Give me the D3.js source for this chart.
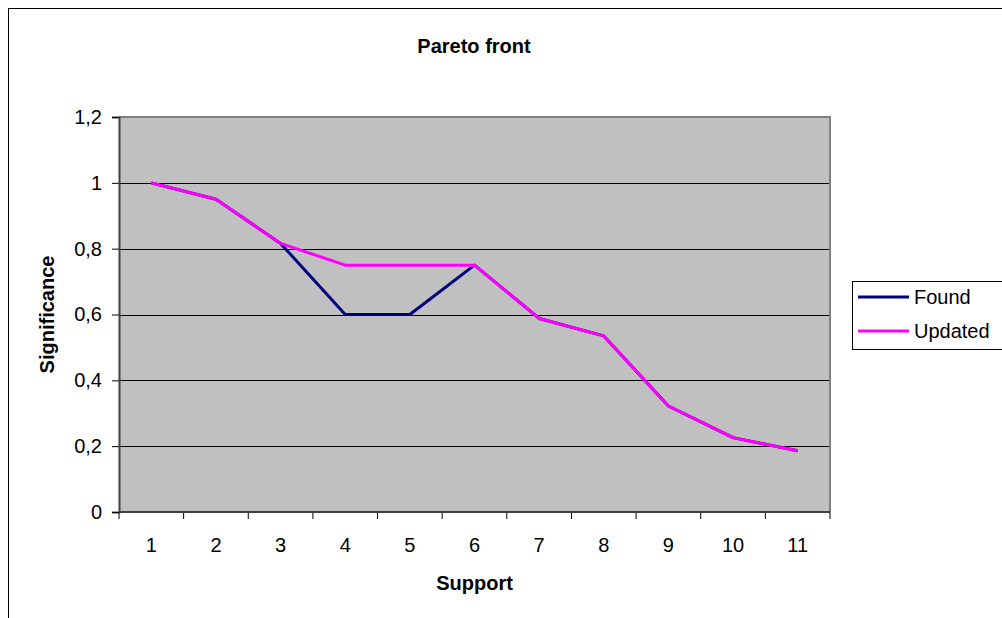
<!DOCTYPE html>
<html>
<head>
<meta charset="utf-8">
<script src="https://cdn.jsdelivr.net/npm/d3@7"></script>
<style>
  html, body { margin: 0; padding: 0; background: #fff; }
  svg { display: block; font-family: "Liberation Sans", Arial, sans-serif; }
</style>
</head>
<body>
<svg id="chart" width="1002" height="618"></svg>
<script>
// Support levels (x categories)
const categories = ["1", "2", "3", "4", "5", "6", "7", "8", "9", "10", "11"];
// Significance of the Pareto front, as found and after update
const found   = [1.0, 0.95, 0.816, 0.60, 0.60, 0.75, 0.588, 0.535, 0.322, 0.226, 0.186];
const updated = [1.0, 0.95, 0.816, 0.75, 0.75, 0.75, 0.588, 0.535, 0.322, 0.226, 0.186];
const yTicks = [0, 0.2, 0.4, 0.6, 0.8, 1, 1.2];
const seriesNames = ["Found", "Updated"];
const seriesColors = ["#000080", "#ff00ff"];

const svg = d3.select("#chart");
const plot = { left: 119, top: 117, right: 830, bottom: 512 };

// Chart area frame (extends past the right and bottom edges)
svg.append("rect")
  .attr("x", 8.5).attr("y", 8.5)
  .attr("width", 1100).attr("height", 700)
  .attr("fill", "#fff").attr("stroke", "#000").attr("stroke-width", 1);

const x = d3.scaleBand().domain(categories).range([plot.left, plot.right]).padding(0);
const y = d3.scaleLinear().domain([0, 1.2]).range([plot.bottom, plot.top]);

// Plot background
svg.append("rect")
  .attr("x", plot.left).attr("y", plot.top)
  .attr("width", plot.right - plot.left).attr("height", plot.bottom - plot.top)
  .attr("fill", "#c0c0c0");

// Horizontal gridlines
svg.append("g")
  .selectAll("line")
  .data(yTicks.filter(v => v > 0 && v < 1.2))
  .join("line")
  .attr("x1", plot.left).attr("x2", plot.right)
  .attr("y1", d => Math.round(y(d)) + 0.5).attr("y2", d => Math.round(y(d)) + 0.5)
  .attr("stroke", "#000").attr("stroke-width", 1);

// Plot border (top and right in grey)
svg.append("path")
  .attr("d", `M${plot.left},${plot.top} H${plot.right} V${plot.bottom}`)
  .attr("fill", "none").attr("stroke", "#808080").attr("stroke-width", 2);

const fmt = d => String(d).replace(".", ",");

// Y axis
const yAxis = svg.append("g")
  .attr("transform", `translate(${plot.left},0)`)
  .call(d3.axisLeft(y).tickValues(yTicks).tickFormat(fmt).tickSize(7).tickPadding(10));
yAxis.select(".domain").attr("stroke", "#404040").attr("stroke-width", 2);
yAxis.selectAll(".tick line").attr("stroke", "#000");
yAxis.selectAll("text").attr("font-size", 20).attr("fill", "#000")
  .attr("font-family", "'Liberation Sans', Arial, sans-serif");

// X axis: ticks at category boundaries, labels at category centres
const xAxis = svg.append("g")
  .attr("transform", `translate(0,${plot.bottom})`)
  .call(d3.axisBottom(x).tickSize(0).tickPadding(26));
xAxis.select(".domain").remove();
xAxis.selectAll("text").attr("font-size", 20).attr("fill", "#000")
  .attr("font-family", "'Liberation Sans', Arial, sans-serif");
const bounds = categories.map(c => x(c)).concat([x(categories[categories.length - 1]) + x.bandwidth()]);
xAxis.selectAll("line.bound")
  .data(bounds)
  .join("line")
  .attr("class", "bound")
  .attr("x1", d => d).attr("x2", d => d)
  .attr("y1", 0).attr("y2", 7)
  .attr("stroke", "#000");
xAxis.append("line")
  .attr("x1", plot.left).attr("x2", plot.right)
  .attr("y1", 0).attr("y2", 0)
  .attr("stroke", "#404040").attr("stroke-width", 2);

// Series lines
const line = d3.line()
  .x((d, i) => x(categories[i]) + x.bandwidth() / 2)
  .y(d => y(d));
[found, updated].forEach((s, k) => {
  svg.append("path")
    .datum(s)
    .attr("d", line)
    .attr("fill", "none")
    .attr("stroke", seriesColors[k])
    .attr("stroke-width", 3)
    .attr("stroke-linejoin", "round");
});

// Titles
svg.append("text")
  .attr("x", 474).attr("y", 53)
  .attr("text-anchor", "middle")
  .attr("font-size", 20).attr("font-weight", "bold")
  .text("Pareto front");
svg.append("text")
  .attr("x", (plot.left + plot.right) / 2).attr("y", 590)
  .attr("text-anchor", "middle")
  .attr("font-size", 20).attr("font-weight", "bold")
  .text("Support");
svg.append("text")
  .attr("transform", `translate(54,${(plot.top + plot.bottom) / 2}) rotate(-90)`)
  .attr("text-anchor", "middle")
  .attr("font-size", 20).attr("font-weight", "bold")
  .text("Significance");

// Legend
const legend = svg.append("g").attr("transform", "translate(852,281)");
legend.append("rect")
  .attr("x", 0.5).attr("y", 0.5)
  .attr("width", 200).attr("height", 68)
  .attr("fill", "#fff").attr("stroke", "#000").attr("stroke-width", 1);
seriesNames.forEach((name, i) => {
  const ly = 16 + i * 34;
  legend.append("line")
    .attr("x1", 6).attr("x2", 57)
    .attr("y1", ly).attr("y2", ly)
    .attr("stroke", seriesColors[i]).attr("stroke-width", 3);
  legend.append("text")
    .attr("x", 62).attr("y", ly + 7)
    .attr("font-size", 20)
    .text(name);
});
</script>
</body>
</html>
